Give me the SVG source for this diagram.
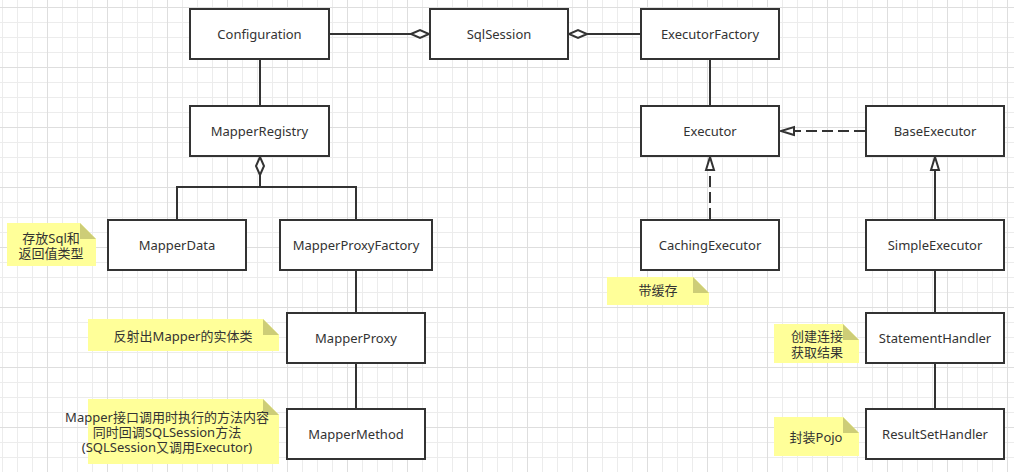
<svg xmlns="http://www.w3.org/2000/svg" width="1014" height="472" viewBox="0 0 1014 472">
<style>
.box{fill:#fff;stroke:#333;stroke-width:2}
.lbl{font-family:"Noto Sans","Noto Sans CJK SC",sans-serif;font-size:13px;fill:#333;text-anchor:middle;dominant-baseline:central}
.note{fill:#ffff99}
.fold{fill:#cdcd77}
.edge{fill:none;stroke:#333;stroke-width:2}
.dash{stroke-dasharray:11 5}
</style>
<defs>
<pattern id="minor" patternUnits="userSpaceOnUse" x="2" y="7" width="15" height="15">
<path d="M0.5 0V15M0 0.5H15" fill="none" stroke="#ececec" stroke-width="1"/>
</pattern>
<pattern id="major" patternUnits="userSpaceOnUse" x="47" y="7" width="60" height="60">
<path d="M0.5 0V60M0 0.5H60" fill="none" stroke="#dedede" stroke-width="1"/>
</pattern>
<marker id="diamond" markerUnits="userSpaceOnUse" markerWidth="24" markerHeight="14" refX="19" refY="5" orient="auto" overflow="visible">
<path d="M1 5L10 1L19 5L10 9Z" fill="#fff" stroke="#333" stroke-width="2" stroke-dasharray="none"/>
</marker>
<marker id="tri" markerUnits="userSpaceOnUse" markerWidth="18" markerHeight="14" refX="14" refY="5" orient="auto" overflow="visible">
<path d="M1 1L14 5L1 9Z" fill="#fff" stroke="#333" stroke-width="2" stroke-dasharray="none"/>
</marker>
</defs>
<rect width="1014" height="472" fill="#fff"/>
<rect width="1014" height="472" fill="url(#minor)"/>
<rect width="1014" height="472" fill="url(#major)"/>

<g id="connectors">
<path class="edge" d="M330 34H429" marker-end="url(#diamond)"/>
<path class="edge" d="M640 34H569" marker-end="url(#diamond)"/>
<path class="edge" d="M260 60V105"/>
<path class="edge" d="M710 60V105"/>
<path class="edge" d="M260 187V157" marker-end="url(#diamond)"/>
<path class="edge" d="M177 219V187H356V219"/>
<path class="edge" d="M356 271V312"/>
<path class="edge" d="M356 364V408"/>
<path class="edge dash" d="M865 131H781" marker-end="url(#tri)"/>
<path class="edge dash" d="M710 219V157" marker-end="url(#tri)"/>
<path class="edge" d="M935 219V157" marker-end="url(#tri)"/>
<path class="edge" d="M935 271V312"/>
<path class="edge" d="M935 364V408"/>
</g>

<g id="Configuration"><rect class="box" x="190" y="9" width="139" height="50"/><text class="lbl" x="259.5" y="34">Configuration</text></g>
<g id="SqlSession"><rect class="box" x="430" y="9" width="138" height="50"/><text class="lbl" x="499" y="34">SqlSession</text></g>
<g id="ExecutorFactory"><rect class="box" x="641" y="9" width="138" height="50"/><text class="lbl" x="710" y="34">ExecutorFactory</text></g>
<g id="MapperRegistry"><rect class="box" x="190" y="106" width="139" height="50"/><text class="lbl" x="259.5" y="131">MapperRegistry</text></g>
<g id="Executor"><rect class="box" x="641" y="106" width="138" height="50"/><text class="lbl" x="710" y="131">Executor</text></g>
<g id="BaseExecutor"><rect class="box" x="866" y="106" width="138" height="50"/><text class="lbl" x="935" y="131">BaseExecutor</text></g>
<g id="MapperData"><rect class="box" x="108" y="220" width="138" height="50"/><text class="lbl" x="177" y="245">MapperData</text></g>
<g id="MapperProxyFactory"><rect class="box" x="280" y="220" width="152" height="50"/><text class="lbl" x="356" y="245">MapperProxyFactory</text></g>
<g id="CachingExecutor"><rect class="box" x="641" y="220" width="138" height="50"/><text class="lbl" x="710" y="245">CachingExecutor</text></g>
<g id="SimpleExecutor"><rect class="box" x="866" y="220" width="138" height="50"/><text class="lbl" x="935" y="245">SimpleExecutor</text></g>
<g id="MapperProxy"><rect class="box" x="287" y="313" width="138" height="50"/><text class="lbl" x="356" y="338">MapperProxy</text></g>
<g id="MapperMethod"><rect class="box" x="287" y="409" width="138" height="50"/><text class="lbl" x="356" y="434">MapperMethod</text></g>
<g id="StatementHandler"><rect class="box" x="866" y="313" width="138" height="50"/><text class="lbl" x="935" y="338">StatementHandler</text></g>
<g id="ResultSetHandler"><rect class="box" x="866" y="409" width="138" height="50"/><text class="lbl" x="935" y="434">ResultSetHandler</text></g>

<g id="note-mapperdata">
<path class="note" d="M7 223H80L96 239V266H7Z"/><path class="fold" d="M80 223L96 239H80Z"/>
<text class="lbl" x="51" y="238">存放Sql和</text><text class="lbl" x="51" y="253">返回值类型</text>
</g>
<g id="note-caching">
<path class="note" d="M607 277H693L709 293V305H607Z"/><path class="fold" d="M693 277L709 293H693Z"/>
<text class="lbl" x="658" y="290">带缓存</text>
</g>
<g id="note-proxy">
<path class="note" d="M88 319H263L279 335V351H88Z"/><path class="fold" d="M263 319L279 335H263Z"/>
<text class="lbl" x="183" y="336">反射出Mapper的实体类</text>
</g>
<g id="note-method">
<path class="note" d="M88 399H263L279 415V464H88Z"/><path class="fold" d="M263 399L279 415H263Z"/>
<text class="lbl" x="167" y="417">Mapper接口调用时执行的方法内容</text>
<text class="lbl" x="167" y="432">同时回调SQLSession方法</text>
<text class="lbl" x="167" y="447">(SQLSession又调用Executor)</text>
</g>
<g id="note-statement">
<path class="note" d="M774 324H843L859 340V363H774Z"/><path class="fold" d="M843 324L859 340H843Z"/>
<text class="lbl" x="817" y="336">创建连接</text><text class="lbl" x="817" y="352">获取结果</text>
</g>
<g id="note-resultset">
<path class="note" d="M774 417H843L859 433V456H774Z"/><path class="fold" d="M843 417L859 433H843Z"/>
<text class="lbl" x="816" y="437">封装Pojo</text>
</g>
</svg>
